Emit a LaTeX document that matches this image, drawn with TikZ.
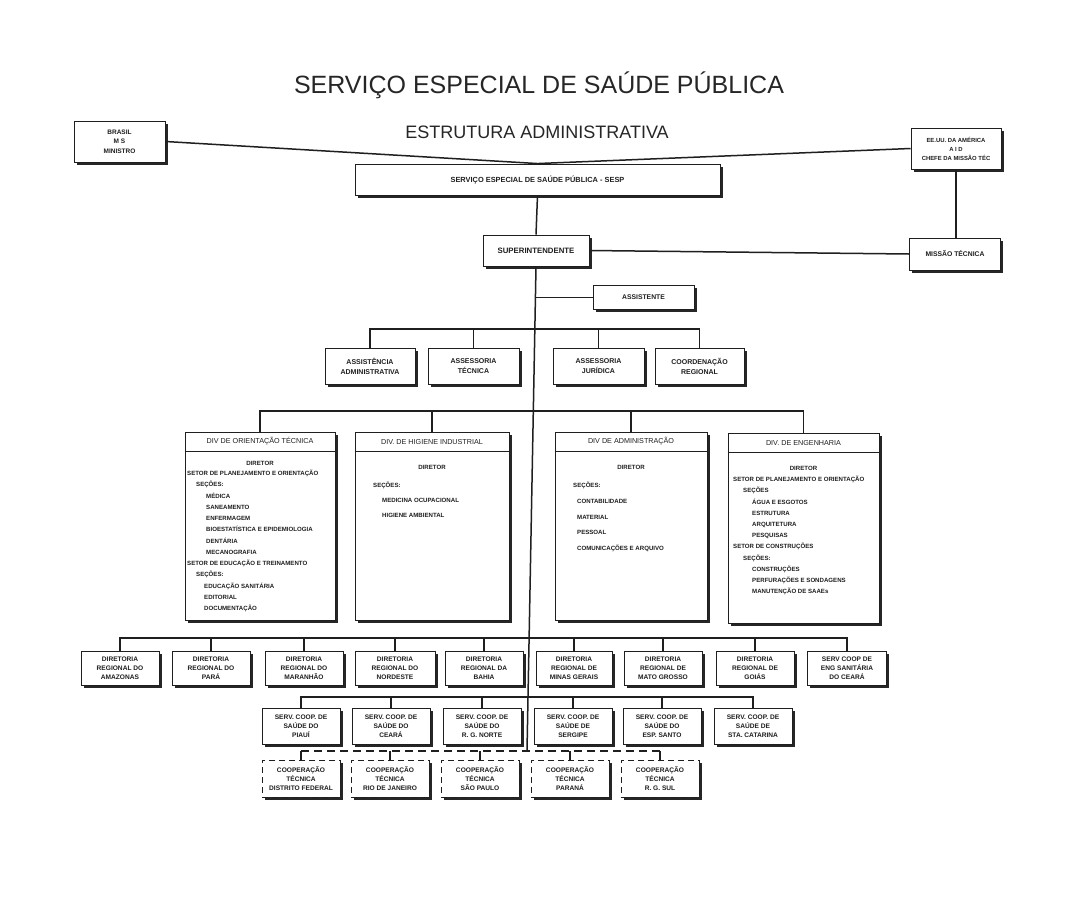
\documentclass[tikz,border=0pt]{standalone}
\usepackage{fontspec}
\setmainfont{Liberation Sans}
\usetikzlibrary{shadows,calc}
\newcommand\bxf{\fontsize{6.6}{9}\selectfont\bfseries}
\begin{document}
\begin{tikzpicture}[x=1pt,y=-1pt,
  conn/.style={draw=black!88,line width=1.5pt},
  rule/.style={draw=black!88,line width=0.9pt},
  box/.style={draw=black!88,line width=0.9pt,fill=white,inner sep=0pt,align=center,font=\bxf,text=black!88,
    drop shadow={shadow xshift=2.6pt,shadow yshift=-2.6pt,fill=black!85,opacity=1}},
  coopbox/.style={box,dashed,dash pattern=on 6pt off 4pt},
  wh/.style 2 args={minimum width=#1,minimum height=#2},
  divhead/.style={font=\fontsize{7.2}{8}\selectfont,text=black!88},
  divdir/.style={font=\fontsize{6.1}{11}\selectfont\bfseries,text=black!88,inner sep=0pt},
  divbody/.style={align=left,anchor=north west,inner sep=0pt,text=black!88}
]
\fill[white] (0,0) rectangle (1067,910);
\useasboundingbox (0,0) rectangle (1067,910);

% titles
\node[anchor=base,font=\fontsize{25}{30}\selectfont,text=black!85] (title) at (539,93) {SERVIÇO ESPECIAL DE SAÚDE PÚBLICA};
\node[anchor=base,font=\fontsize{18}{22}\selectfont,text=black!85] (subtitle) at (537,138) {ESTRUTURA ADMINISTRATIVA};

% top level
\node[box,wh={91pt}{41pt},font=\fontsize{6.5}{9.5}\selectfont\bfseries] (brasil) at (119.5,141.5) {BRASIL\\M S\\MINISTRO};
\node[box,wh={90pt}{41pt},font=\fontsize{5.9}{9}\selectfont\bfseries] (eeuu) at (956,148.5) {EE.UU. DA AMÉRICA\\A I D\\CHEFE DA MISSÃO TÉC};
\node[box,wh={365pt}{31pt},font=\fontsize{7.4}{9}\selectfont\bfseries] (sesp) at (537.5,179.5) {SERVIÇO ESPECIAL DE SAÚDE PÚBLICA - SESP};
\node[box,wh={106pt}{31pt},font=\fontsize{7.8}{9}\selectfont\bfseries] (sup) at (536,250.5) {SUPERINTENDENTE};
\node[box,wh={91pt}{32pt},font=\fontsize{6.8}{9}\selectfont\bfseries] (missao) at (955,254) {MISSÃO TÉCNICA};
\node[box,wh={101pt}{24pt},font=\fontsize{6.8}{9}\selectfont\bfseries] (assist) at (643.5,297) {ASSISTENTE};

\draw[conn] (brasil.east) -- (sesp.north) -- (eeuu.west);
\draw[conn] (eeuu.south) -- (eeuu.south |- missao.north);
\draw[conn] (sup.east) -- (missao.west);
\coordinate (spinebot) at (527,751);
\draw[conn] (sesp.south) -- (sup.north);
\draw[conn] (sup.south) -- (spinebot);
\path (sup.south) -- (spinebot) coordinate[pos=0.0638] (jA);
\draw[conn] (jA) -- (jA -| assist.west);

% staff row
\coordinate (rowA) at (0,329);
\node[box,wh={90pt}{36pt},font=\fontsize{7}{10}\selectfont\bfseries] (adm) at (370,366) {ASSISTÊNCIA\\ADMINISTRATIVA};
\node[box,wh={91pt}{36pt},font=\fontsize{7}{10}\selectfont\bfseries] (tec) at (473.5,366) {ASSESSORIA\\TÉCNICA};
\node[box,wh={91pt}{36pt},font=\fontsize{7}{10}\selectfont\bfseries] (jur) at (598.5,366) {ASSESSORIA\\JURÍDICA};
\node[box,wh={89pt}{36pt},font=\fontsize{7}{10}\selectfont\bfseries] (coord) at (699.5,366) {COORDENAÇÃO\\REGIONAL};
\draw[conn] (adm.north) -- (adm.north |- rowA) -- (coord.north |- rowA) -- (coord.north);
\draw[conn] (tec.north) -- (tec.north |- rowA);
\draw[conn] (jur.north) -- (jur.north |- rowA);

% divisions
\coordinate (rowB) at (0,411);
\node[box,wh={150pt}{188pt}] (dot) at (260,526) {};
\node[box,wh={154pt}{188pt}] (dhi) at (432,526) {};
\node[box,wh={152pt}{188pt}] (dad) at (631,526) {};
\node[box,wh={151pt}{190pt}] (den) at (803.5,528) {};
\draw[conn] (dot.north) -- (dot.north |- rowB) -- (den.north |- rowB) -- (den.north);
\draw[conn] (dhi.north) -- (dhi.north |- rowB);
\draw[conn] (dad.north) -- (dad.north |- rowB);
\foreach \d in {dot,dhi,dad,den}{
  \draw[rule] ($(\d.north west)+(0,20)$) -- ($(\d.north east)+(0,20)$);
}
\node[divhead] (doth) at ($(dot.north)+(0,10)$) {DIV DE ORIENTAÇÃO TÉCNICA};
\node[divhead] (dhih) at ($(dhi.north)+(0,10)$) {DIV. DE HIGIENE INDUSTRIAL};
\node[divhead] (dadh) at ($(dad.north)+(0,10)$) {DIV DE ADMINISTRAÇÃO};
\node[divhead] (denh) at ($(den.north)+(0,10)$) {DIV. DE ENGENHARIA};

\node[divdir] (dotd) at (260,463) {DIRETOR};
\node[divdir,divbody,font=\fontsize{6.1}{11.25}\selectfont\bfseries] (dotb) at (187,470) {SETOR DE PLANEJAMENTO E ORIENTAÇÃO\\
\hspace*{9pt}SEÇÕES:\\
\hspace*{19pt}MÉDICA\\
\hspace*{19pt}SANEAMENTO\\
\hspace*{19pt}ENFERMAGEM\\
\hspace*{19pt}BIOESTATÍSTICA E EPIDEMIOLOGIA\\
\hspace*{19pt}DENTÁRIA\\
\hspace*{19pt}MECANOGRAFIA\\
SETOR DE EDUCAÇÃO E TREINAMENTO\\
\hspace*{9pt}SEÇÕES:\\
\hspace*{17pt}EDUCAÇÃO SANITÁRIA\\
\hspace*{17pt}EDITORIAL\\
\hspace*{17pt}DOCUMENTAÇÃO};

\node[divdir] (dhid) at (432,467) {DIRETOR};
\node[divdir,divbody,font=\fontsize{6.1}{15}\selectfont\bfseries] (dhib) at (373,482) {SEÇÕES:\\
\hspace*{9pt}MEDICINA OCUPACIONAL\\
\hspace*{9pt}HIGIENE AMBIENTAL};

\node[divdir] (dadd) at (631,467) {DIRETOR};
\node[divdir,divbody,font=\fontsize{6.1}{15.7}\selectfont\bfseries] (dadb) at (573,482) {SEÇÕES:\\
\hspace*{4pt}CONTABILIDADE\\
\hspace*{4pt}MATERIAL\\
\hspace*{4pt}PESSOAL\\
\hspace*{4pt}COMUNICAÇÕES E ARQUIVO};

\node[divdir] (dend) at (803.5,468) {DIRETOR};
\node[divdir,divbody,font=\fontsize{6.1}{11.2}\selectfont\bfseries] (denb) at (733,476) {SETOR DE PLANEJAMENTO E ORIENTAÇÃO\\
\hspace*{10pt}SEÇÕES\\
\hspace*{19pt}ÁGUA E ESGOTOS\\
\hspace*{19pt}ESTRUTURA\\
\hspace*{19pt}ARQUITETURA\\
\hspace*{19pt}PESQUISAS\\
SETOR DE CONSTRUÇÕES\\
\hspace*{10pt}SEÇÕES:\\
\hspace*{19pt}CONSTRUÇÕES\\
\hspace*{19pt}PERFURAÇÕES E SONDAGENS\\
\hspace*{19pt}MANUTENÇÃO DE SAAEs};

% regional row
\coordinate (rowC) at (0,638);
\node[box,wh={78pt}{34pt}] (am) at (120,668) {DIRETORIA\\REGIONAL DO\\AMAZONAS};
\node[box,wh={78pt}{34pt}] (pa) at (211,668) {DIRETORIA\\REGIONAL DO\\PARÁ};
\node[box,wh={78pt}{34pt}] (ma) at (304,668) {DIRETORIA\\REGIONAL DO\\MARANHÃO};
\node[box,wh={80pt}{34pt}] (ne) at (395,668) {DIRETORIA\\REGIONAL DO\\NORDESTE};
\node[box,wh={78pt}{34pt}] (ba) at (484,668) {DIRETORIA\\REGIONAL DA\\BAHIA};
\node[box,wh={76pt}{34pt}] (mg) at (574,668) {DIRETORIA\\REGIONAL DE\\MINAS GERAIS};
\node[box,wh={78pt}{34pt}] (mt) at (663,668) {DIRETORIA\\REGIONAL DE\\MATO GROSSO};
\node[box,wh={78pt}{34pt}] (go) at (755,668) {DIRETORIA\\REGIONAL DE\\GOIÁS};
\node[box,wh={79pt}{34pt}] (ce) at (847,668) {SERV COOP DE\\ENG SANITÁRIA\\DO CEARÁ};
\draw[conn] (am.north) -- (am.north |- rowC) -- (ce.north |- rowC) -- (ce.north);
\foreach \r in {pa,ma,ne,ba,mg,mt,go}{
  \draw[conn] (\r.north) -- (\r.north |- rowC);
}

% cooperative services row
\coordinate (rowD) at (0,697);
\node[box,wh={78pt}{36pt}] (pi) at (301,726) {SERV. COOP. DE\\SAÚDE DO\\PIAUÍ};
\node[box,wh={78pt}{36pt}] (ces) at (391,726) {SERV. COOP. DE\\SAÚDE DO\\CEARÁ};
\node[box,wh={78pt}{36pt}] (rn) at (482,726) {SERV. COOP. DE\\SAÚDE DO\\R. G. NORTE};
\node[box,wh={78pt}{36pt}] (se) at (573,726) {SERV. COOP. DE\\SAÚDE DE\\SERGIPE};
\node[box,wh={78pt}{36pt}] (es) at (662,726) {SERV. COOP. DE\\SAÚDE DO\\ESP. SANTO};
\node[box,wh={78pt}{36pt}] (sc) at (753,726) {SERV. COOP. DE\\SAÚDE DE\\STA. CATARINA};
\draw[conn] (pi.north) -- (pi.north |- rowD) -- (sc.north |- rowD) -- (sc.north);
\foreach \r in {ces,rn,se,es}{
  \draw[conn] (\r.north) -- (\r.north |- rowD);
}

% technical cooperation row (dashed)
\coordinate (rowE) at (0,751);
\node[coopbox,wh={78pt}{37pt}] (df) at (301,778.5) {COOPERAÇÃO\\TÉCNICA\\DISTRITO FEDERAL};
\node[coopbox,wh={78pt}{37pt}] (rj) at (390,778.5) {COOPERAÇÃO\\TÉCNICA\\RIO DE JANEIRO};
\node[coopbox,wh={78pt}{37pt}] (sp) at (480,778.5) {COOPERAÇÃO\\TÉCNICA\\SÃO PAULO};
\node[coopbox,wh={78pt}{37pt}] (pr) at (570,778.5) {COOPERAÇÃO\\TÉCNICA\\PARANÁ};
\node[coopbox,wh={78pt}{37pt}] (rs) at (660,778.5) {COOPERAÇÃO\\TÉCNICA\\R. G. SUL};
\draw[conn,dash pattern=on 8pt off 5pt] (df.north |- rowE) -- (rs.north |- rowE);
\foreach \r in {df,rj,sp,pr,rs}{
  \draw[conn] (\r.north) -- (\r.north |- rowE);
}
\end{tikzpicture}
\end{document}
